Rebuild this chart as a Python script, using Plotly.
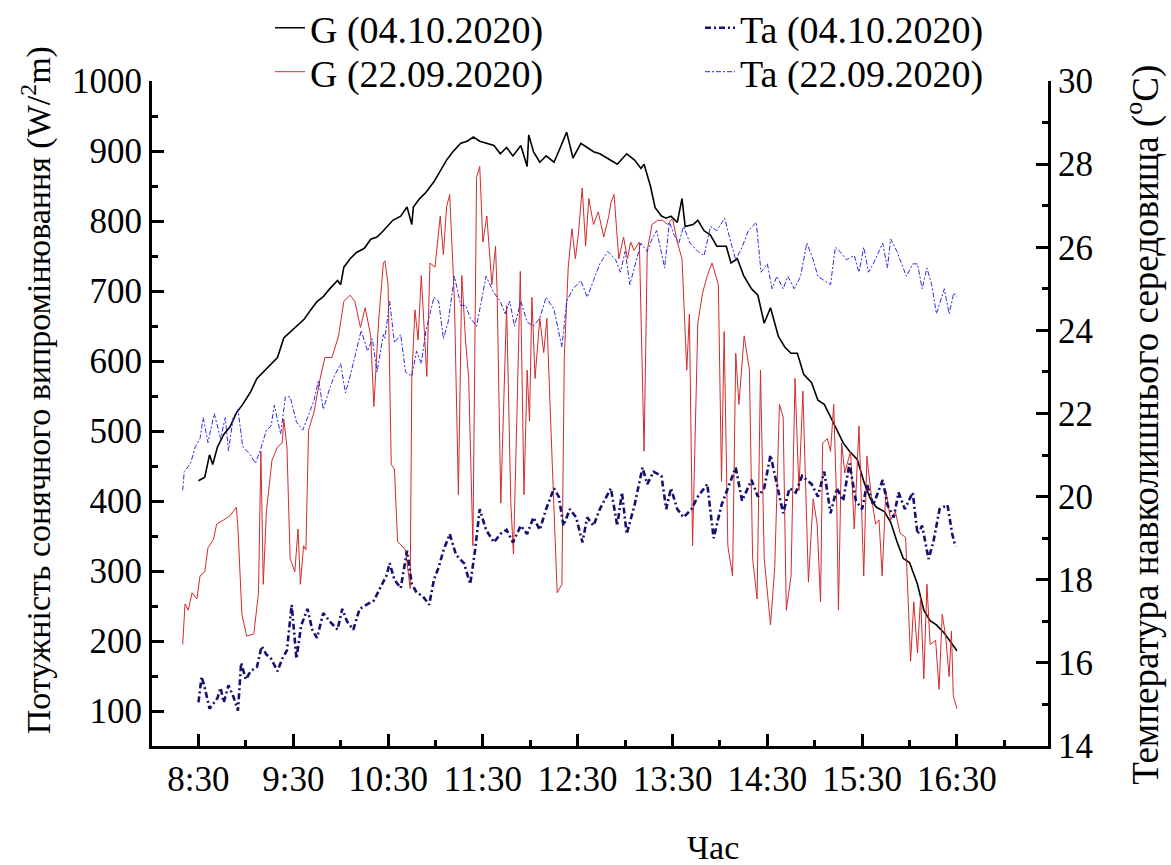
import plotly.graph_objects as go

# ---------------- data ----------------
g04_time = ["8:30","8:34","8:37","8:39","8:42","8:46","8:50","8:54","8:58","9:03","9:07","9:11","9:15","9:20","9:24","9:28","9:32","9:37","9:41","9:45","9:49","9:53","9:58","10:00","10:02","10:06","10:10","10:15","10:19","10:23","10:27","10:33","10:38","10:42","10:45","10:46","10:50","10:54","10:59","11:03","11:07","11:11","11:16","11:20","11:24","11:28","11:32","11:37","11:41","11:45","11:49","11:54","11:58","11:59","12:02","12:06","12:10","12:15","12:19","12:23","12:27","12:32","12:36","12:40","12:44","12:49","12:53","12:55","13:01","13:06","13:10","13:12","13:16","13:19","13:23","13:26","13:29","13:33","13:36","13:38","13:43","13:46","13:50","13:54","13:58","14:04","14:07","14:11","14:15","14:20","14:24","14:28","14:32","14:37","14:41","14:45","14:49","14:53","14:58","15:02","15:06","15:10","15:14","15:18","15:22","15:27","15:31","15:35","15:39","15:44","15:48","15:52","15:56","16:00","16:05","16:09","16:13","16:17","16:22","16:26","16:30"]
g04_val = [429,434,466,452,477,495,506,526,538,556,575,584,593,605,633,641,649,660,673,685,692,703,715,709,734,746,755,761,774,777,786,801,807,820,795,820,832,841,856,871,887,899,911,914,920,914,911,908,896,905,893,908,878,923,899,884,893,884,905,927,890,911,905,899,896,890,884,881,896,887,875,881,850,819,807,804,807,798,832,792,795,801,786,780,764,764,740,746,722,703,694,654,676,635,620,611,611,581,569,544,538,520,501,483,471,459,428,404,391,385,370,342,318,312,281,244,229,223,211,198,186]

g22_time = ["8:20","8:21:30","8:23:30","8:26","8:29","8:31","8:34","8:36","8:39:30","8:41:30","8:46","8:50","8:54","8:55","8:57:30","9:00:30","9:05","9:08","9:09:30","9:11","9:13","9:16:30","9:20","9:23","9:24","9:26","9:28","9:31","9:33","9:34:30","9:36:30","9:38","9:39:40","9:43","9:47","9:50","9:54:30","9:58:40","10:02","10:06","10:09","10:12:30","10:15:30","10:19","10:21","10:24","10:27","10:28","10:30","10:32","10:34","10:36","10:37:30","10:41","10:44","10:45","10:47","10:49","10:51","10:54:30","10:56:30","10:59:40","11:03","11:05","11:07","11:09","11:12","11:14:30","11:16:40","11:19","11:21","11:23:40","11:26","11:28","11:30","11:32:30","11:35:40","11:38","11:39","11:41:20","11:43","11:45","11:47:40","11:49:20","11:51:30","11:53:40","11:56","11:58","11:59:30","12:01","12:03","12:06","12:08:30","12:10:30","12:12:40","12:15","12:17","12:20","12:21:30","12:24","12:26:20","12:28:30","12:30:30","12:32:50","12:35","12:37","12:40","12:43","12:46:30","12:49:40","12:51","12:53","12:56","12:59","13:01:30","13:03:30","13:05:40","13:09","13:12","13:14","13:17","13:20:30","13:23:40","13:27","13:30","13:33","13:36","13:39","13:40:40","13:42:40","13:46","13:49","13:52","13:55","13:59","14:01","14:02:40","14:05","14:08","14:10","14:12","14:15:20","14:18:40","14:20:40","14:23:30","14:25:40","14:28","14:32","14:34:40","14:37:40","14:40","14:42","14:45","14:47:30","14:50","14:52:30","14:56","14:59","15:01:30","15:03:40","15:05","15:08","15:10","15:12","15:14","15:15","15:17","15:19","15:22:40","15:25","15:28","15:31","15:33","15:36","15:38:30","15:40:40","15:42:40","15:45","15:48","15:51","15:54","15:57:30","16:00:40","16:02:40","16:05","16:07","16:09","16:11","16:13","16:16:30","16:18:40","16:20:40","16:22:50","16:25","16:26:30","16:27:40","16:30"]
g22_val = [195,253,244,269,260,293,299,333,345,367,373,379,391,360,238,207,210,269,471,281,385,458,477,483,517,477,318,299,360,281,336,330,501,526,575,605,605,636,685,694,685,648,676,636,535,657,740,743,709,452,446,342,339,330,275,575,673,630,722,578,740,734,807,752,820,838,685,409,722,630,575,336,862,878,770,807,709,764,697,397,526,679,397,324,520,728,409,587,514,691,575,661,612,661,526,391,269,281,605,734,789,746,783,847,764,832,795,813,777,807,826,838,746,777,746,770,758,770,471,758,795,801,801,795,804,770,746,587,667,336,654,697,722,740,709,428,642,336,293,611,538,636,587,318,260,587,318,223,305,538,520,244,293,575,415,557,284,403,367,256,483,489,471,538,385,244,483,440,471,360,507,293,464,403,367,373,293,415,373,385,354,348,171,256,183,263,146,281,195,201,131,238,207,149,214,122,103]

ta04_time = ["8:30","8:32","8:34","8:37","8:42","8:44","8:46","8:49","8:52","8:55","8:57","9:00","9:03","9:07","9:10","9:13","9:16","9:20","9:23","9:26","9:29","9:32","9:35","9:39","9:42","9:45","9:49","9:53","9:58","10:01","10:04","10:08","10:12","10:17","10:21","10:25","10:29","10:31","10:34","10:38","10:42","10:45","10:48","10:52","10:56","10:59","11:02","11:05","11:09","11:13","11:18","11:22","11:25","11:28","11:32","11:37","11:41","11:45","11:49","11:54","11:58","12:02","12:06","12:10","12:15","12:18","12:21","12:25","12:29","12:33","12:36","12:40","12:44","12:51","12:55","12:58","13:01","13:06","13:11","13:14","13:18","13:23","13:26","13:29","13:33","13:37","13:42","13:46","13:52","13:56","14:01","14:05","14:10","14:14","14:20","14:24","14:28","14:32","14:35","14:40","14:44","14:48","14:52","14:58","15:02","15:06","15:10","15:14","15:18","15:22","15:26","15:30","15:33","15:37","15:43","15:46","15:50","15:53","15:57","16:02","16:05","16:08","16:12","16:15","16:19","16:24","16:27","16:29"]
ta04_val = [15.05,15.67,15.4,14.9,15.15,15.4,15.05,15.46,15.2,14.85,16.0,15.6,15.8,15.9,16.4,16.2,16.1,15.8,16.1,16.3,17.4,16.1,16.9,17.3,16.8,16.6,17.2,17.0,16.8,17.3,17.0,16.8,17.3,17.4,17.5,17.8,18.1,18.4,18.0,17.8,18.7,17.9,17.7,17.6,17.4,18.0,18.3,18.7,19.1,18.6,18.4,17.9,18.7,19.7,19.2,18.9,19.1,19.2,18.9,19.3,19.1,19.5,19.2,19.7,20.2,20.0,19.3,19.7,19.5,18.9,19.5,19.3,19.7,20.2,19.3,20.1,19.1,19.8,20.7,20.3,20.6,20.5,19.7,20.2,19.7,19.5,19.7,20.0,20.3,19.0,19.8,20.2,20.7,19.9,20.4,20.0,20.2,21.0,20.5,19.6,20.2,20.1,20.5,20.3,20.0,20.6,19.6,20.2,19.9,20.8,19.9,19.7,20.3,19.8,20.4,19.8,19.5,20.1,19.7,20.1,19.1,19.3,18.5,18.9,19.7,19.8,19.1,18.8]

ta22_time = ["8:20","8:21","8:25","8:28","8:31","8:33","8:36","8:40","8:44","8:47","8:49","8:52","8:55","8:58","9:03","9:06","9:09","9:13","9:16","9:18","9:22","9:25","9:28","9:32","9:36","9:40","9:43","9:46","9:49","9:53","9:56","10:00","10:03","10:06","10:10","10:13","10:17","10:20","10:23","10:27","10:28","10:31","10:34","10:38","10:41","10:45","10:48","10:51","10:54","10:59","11:02","11:05","11:08","11:12","11:16","11:19","11:22","11:26","11:29","11:32","11:37","11:41","11:44","11:47","11:50","11:54","11:58","12:02","12:06","12:10","12:15","12:20","12:23","12:27","12:32","12:36","12:40","12:44","12:49","12:54","12:57","13:00","13:03","13:07","13:10","13:14","13:17","13:20","13:25","13:28","13:31","13:34","13:37","13:41","13:46","13:50","13:54","13:58","14:03","14:07","14:10","14:14","14:18","14:23","14:26","14:30","14:33","14:36","14:40","14:43","14:47","14:51","14:55","14:59","15:02","15:06","15:10","15:13","15:16","15:20","15:25","15:28","15:31","15:34","15:37","15:43","15:46","15:48","15:52","15:55","15:58","16:02","16:05","16:08","16:11","16:14","16:17","16:22","16:25","16:28","16:30"]
ta22_val = [20.15,20.6,20.8,21.2,21.4,21.9,21.3,22.0,21.4,21.9,21.1,21.9,22.1,21.2,21.0,20.8,21.1,21.6,21.7,22.2,21.5,22.4,22.4,21.8,21.6,22.0,22.3,22.8,22.1,22.6,22.9,23.2,22.5,22.9,23.5,24.0,23.5,23.8,23.0,23.9,23.8,24.7,23.7,23.9,23.0,22.9,23.5,23.2,24.0,24.8,24.7,23.8,24.2,25.3,24.6,24.6,24.3,24.1,24.7,25.3,24.9,24.7,24.4,24.7,24.1,24.7,24.2,24.1,24.3,24.8,24.5,23.6,24.7,25.0,25.2,24.8,25.2,25.6,25.9,25.7,25.4,25.9,25.1,25.7,26.1,25.9,26.2,26.4,25.5,26.6,26.3,26.1,26.5,26.1,25.9,25.8,26.5,26.4,26.7,26.1,25.7,26.0,26.4,26.6,25.4,25.6,25.0,25.3,25.0,25.3,25.0,25.3,26.1,25.7,25.3,25.2,25.1,26.0,25.9,25.7,25.8,25.4,26.0,25.4,25.6,26.1,25.5,26.2,25.9,25.6,25.3,25.6,25.6,25.0,25.5,25.1,24.4,25.0,24.4,24.9,24.8]

x_tick_labels = ["8:30","9:30","10:30","11:30","12:30","13:30","14:30","15:30","16:30"]
x_minor_labels = ["9:00","10:00","11:00","12:00","13:00","14:00","15:00","16:00","17:00"]

y_title_left = "Потужність сонячного випромінювання (W/<sup>2</sup>m)"
y_title_right = "Температура навколишнього середовища (<sup>o</sup>C)"
x_title = "Час"


def to_hours(t):
    parts = [int(p) for p in t.split(":")]
    h, m = parts[0], parts[1]
    s = parts[2] if len(parts) > 2 else 0
    return h + m / 60 + s / 3600


FONT = "Liberation Serif"
LEG_FONT = 38

fig = go.Figure()
fig.add_trace(go.Scatter(x=[to_hours(t) for t in g04_time], y=g04_val, mode="lines",
                         name="G (04.10.2020)", line=dict(color="#000000", width=1.6),
                         legend="legend"))
fig.add_trace(go.Scatter(x=[to_hours(t) for t in g22_time], y=g22_val, mode="lines",
                         name="G (22.09.2020)", line=dict(color="#d42a2a", width=1),
                         legend="legend3"))
fig.add_trace(go.Scatter(x=[to_hours(t) for t in ta04_time], y=ta04_val, mode="lines",
                         name="Ta (04.10.2020)", yaxis="y2",
                         line=dict(color="#14106e", width=2.6, dash="6px,3px,2px,3px"),
                         legend="legend2"))
fig.add_trace(go.Scatter(x=[to_hours(t) for t in ta22_time], y=ta22_val, mode="lines",
                         name="Ta (22.09.2020)", yaxis="y2",
                         line=dict(color="#2a2ae6", width=1, dash="5px,2px,2px,2px"),
                         legend="legend4"))

axis_common = dict(showline=True, linecolor="black", linewidth=3, ticks="inside",
                   tickcolor="black", tickwidth=3, ticklen=12, showgrid=False, zeroline=False,
                   tickfont=dict(family=FONT, size=35, color="black"))


def leg(xpx, ypx):
    return dict(xref="container", yref="container", x=xpx / 1171, y=1 - ypx / 865,
                xanchor="left", yanchor="middle", orientation="v",
                font=dict(family=FONT, size=LEG_FONT, color="black"),
                bgcolor="rgba(0,0,0,0)")


fig.update_layout(
    width=1171, height=865,
    margin=dict(l=152, r=123, t=81, b=119, autoexpand=False),
    paper_bgcolor="white", plot_bgcolor="white",
    font=dict(family=FONT, size=34, color="black"),
    xaxis=dict(range=[8.01, 17.46], tickmode="array",
               tickvals=[to_hours(t) for t in x_tick_labels], ticktext=x_tick_labels,
               minor=dict(tickmode="array", tickvals=[to_hours(t) for t in x_minor_labels],
                          ticks="inside", ticklen=6, tickwidth=3, tickcolor="black"),
               **axis_common),
    yaxis=dict(range=[50, 1000], tick0=0, dtick=100,
               minor=dict(dtick=50, ticks="inside", ticklen=6, tickwidth=3, tickcolor="black"),
               **axis_common),
    yaxis2=dict(range=[14, 30], tick0=14, dtick=2, overlaying="y", side="right",
                minor=dict(dtick=1, ticks="inside", ticklen=6, tickwidth=3, tickcolor="black"),
                **axis_common),
    legend=leg(270, 28),
    legend2=leg(700, 28),
    legend3=leg(270, 72),
    legend4=leg(700, 72),
    showlegend=True,
)

fig.add_annotation(text=y_title_left, xref="paper", yref="paper", x=-0.1295, y=0.535,
                   xanchor="center", yanchor="middle", textangle=-90, showarrow=False,
                   font=dict(family=FONT, size=34, color="black"))
fig.add_annotation(text=y_title_right, xref="paper", yref="paper", x=1.106, y=0.483,
                   xanchor="center", yanchor="middle", textangle=-90, showarrow=False,
                   font=dict(family=FONT, size=37, color="black"))
fig.add_annotation(text=x_title, xref="paper", yref="paper", x=0.626, y=-0.152,
                   xanchor="center", yanchor="middle", showarrow=False,
                   font=dict(family=FONT, size=34, color="black"))

fig.write_html("out.html")
